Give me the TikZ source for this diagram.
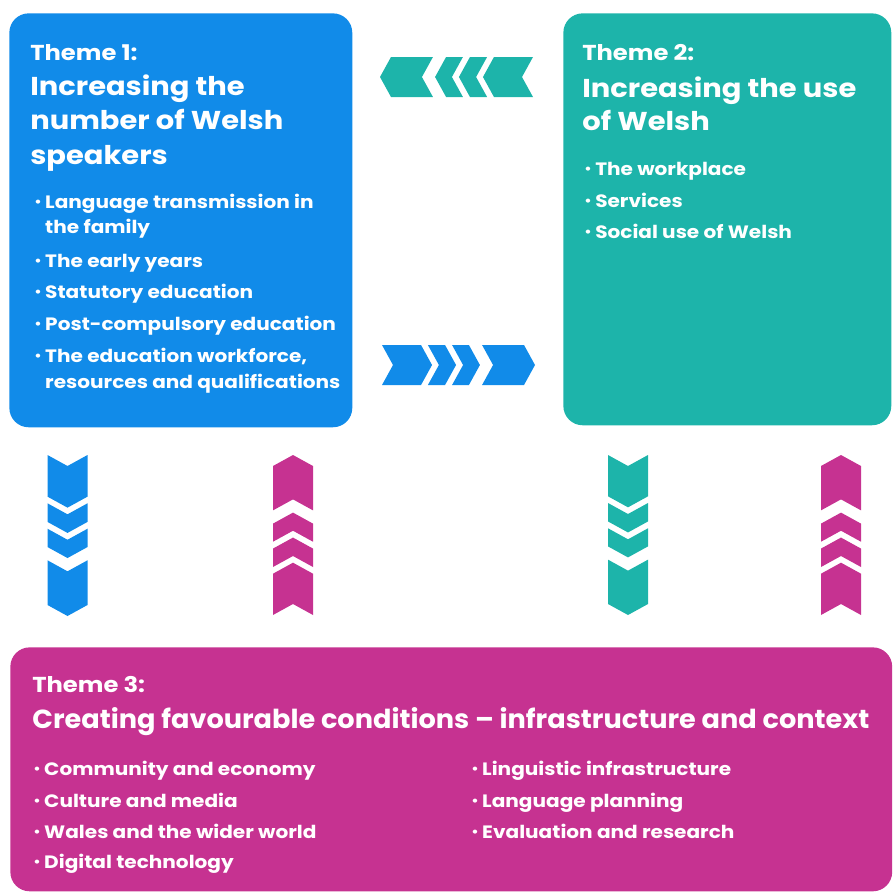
\documentclass[tikz,border=0pt]{standalone}
\usepackage{fontspec}
\setmainfont{Poppins}[BoldFont={Poppins Bold}, FakeStretch=1.12]
\newfontfamily\tthree{Poppins Bold}[FakeStretch=1.037]
\definecolor{cblue}{HTML}{118BE9}
\definecolor{cteal}{HTML}{1DB4AA}
\definecolor{cmag}{HTML}{C63291}
\newcommand{\chevrow}[5]{%
  \begin{scope}[shift={(#1,#2)}, rotate=#3]
    \foreach \a/\b in {0/0.327, 0.30/0.484, 0.458/0.64, 0.654/1} {
      \fill[#5] (\a*#4, -20) -- (\b*#4-11, -20) -- (\b*#4, 0) -- (\b*#4-11, 20) -- (\a*#4, 20) -- (\a*#4+11, 0) -- cycle;
    }
  \end{scope}}
\newcommand{\bl}{\makebox[6.2pt][l]{\raisebox{0.6pt}{\fontsize{7.5}{7.5}\selectfont •}}}
\newcommand{\bi}{\hspace*{6.2pt}}
\tikzset{
  box/.style={fill=#1, rounded corners=11pt, inner sep=0pt, anchor=north west},
  lab/.style={text=white, inner sep=0pt, anchor=base west, font=\bfseries\fontsize{12.3}{12.3}\selectfont},
  ttl/.style={text=white, inner sep=0pt, anchor=base west, font=\bfseries\fontsize{14.7}{14.7}\selectfont},
  ttlc/.style={text=white, inner sep=0pt, anchor=base west, font=\tthree\fontsize{14.9}{14.9}\selectfont},
  itm/.style={text=white, inner sep=0pt, anchor=base west, font=\bfseries\fontsize{10.2}{10.2}\selectfont},
}
\begin{document}
\begin{tikzpicture}[x=0.02cm, y=-0.02cm]
\useasboundingbox (0,0) rectangle (893,893);
% boxes
\node[box=cblue, minimum width=6.86cm, minimum height=8.28cm] (b1) at (9,13) {};
\node[box=cteal, minimum width=6.56cm, minimum height=8.24cm] (b2) at (563,13) {};
\node[box=cmag, minimum width=17.64cm, minimum height=4.88cm] (b3) at (10,647) {};
% theme 1
\node[lab] (t1a) at (30,60) {Theme 1:};
\node[ttl] (t1b) at (30,95) {Increasing the};
\node[ttl] (t1c) at (30,129) {number of Welsh};
\node[ttl] (t1d) at (30,164) {speakers};
\node[itm] (t1e) at (34,208) {\bl Language transmission in};
\node[itm] (t1f) at (34,233) {\bi the family};
\node[itm] (t1g) at (34,267) {\bl The early years};
\node[itm] (t1h) at (34,298) {\bl Statutory education};
\node[itm] (t1i) at (34,330) {\bl Post-compulsory education};
\node[itm] (t1j) at (34,362) {\bl The education workforce,};
\node[itm] (t1k) at (34,388) {\bi resources and qualifications};
% theme 2
\node[lab] (t2a) at (582,60) {Theme 2:};
\node[ttl] (t2b) at (582,97) {Increasing the use};
\node[ttl] (t2c) at (582,130) {of Welsh};
\node[itm] (t2d) at (584,175) {\bl The workplace};
\node[itm] (t2e) at (584,207) {\bl Services};
\node[itm] (t2f) at (584,238) {\bl Social use of Welsh};
% theme 3
\node[lab] (t3a) at (32,692) {Theme 3:};
\node[ttlc] (t3b) at (32,728) {Creating favourable conditions – infrastructure and context};
\node[itm] (t3c) at (33,775) {\bl Community and economy};
\node[itm] (t3d) at (33,807) {\bl Culture and media};
\node[itm] (t3e) at (33,838) {\bl Wales and the wider world};
\node[itm] (t3f) at (33,868) {\bl Digital technology};
\node[itm] (t3g) at (471,775) {\bl Linguistic infrastructure};
\node[itm] (t3h) at (471,807) {\bl Language planning};
\node[itm] (t3i) at (471,838) {\bl Evaluation and research};
% chevrons
\chevrow{533}{77}{180}{153}{cteal}
\chevrow{382}{365}{0}{153}{cblue}
\chevrow{67.5}{455}{270}{161}{cblue}
\chevrow{293}{615}{90}{160}{cmag}
\chevrow{628}{455}{270}{160}{cteal}
\chevrow{841}{615}{90}{160}{cmag}
\end{tikzpicture}
\end{document}
